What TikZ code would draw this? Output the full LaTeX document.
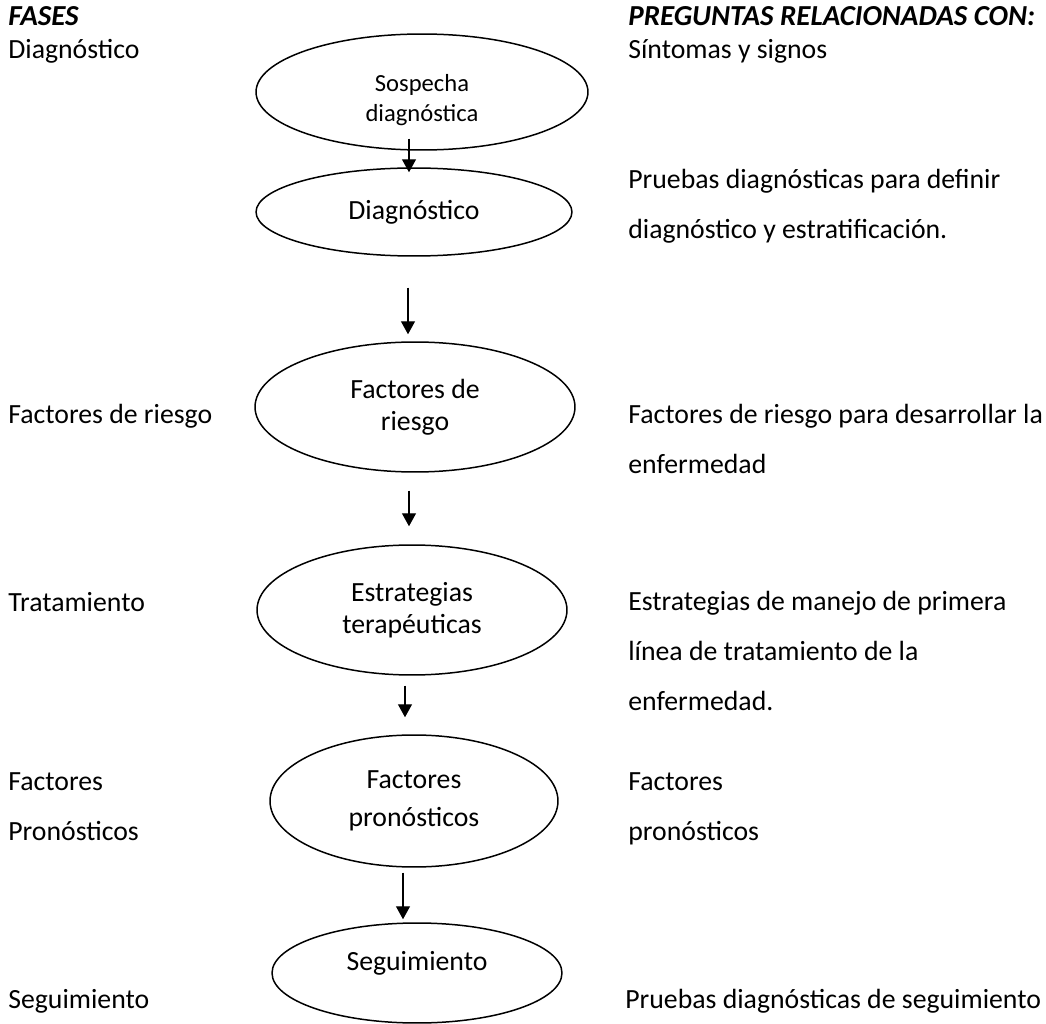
\documentclass[tikz,border=0pt]{standalone}
\usepackage{fontspec}
\setmainfont{Carlito}
\usetikzlibrary{shapes.geometric,arrows.meta}
\begin{document}
\begin{tikzpicture}[x=0.02cm, y=-0.02cm,
  txt/.style={anchor=base west, inner sep=0pt, align=left, font=\fontsize{15.8}{28.45}\selectfont},
  etapa/.style={draw, ellipse, line width=0.85pt, inner sep=0pt, align=center, font=\fontsize{15.8}{18}\selectfont},
  arr/.style={-{Triangle[width=0.28cm, length=0.26cm]}, line width=0.75pt}]
\useasboundingbox (0,0) rectangle (1046,1024);

\node [txt, font=\fontsize{16.5}{28.45}\selectfont\bfseries\itshape] (fases) at (8,26) {FASES};
\node [txt, font=\fontsize{16.5}{28.45}\selectfont\bfseries\itshape] (preg) at (628,26) {PREGUNTAS RELACIONADAS CON:};

\node [etapa, minimum width=6.64cm, minimum height=2.32cm, text height=1.25cm, font=\fontsize{14}{17}\selectfont] (e1) at (422,92) {Sospecha\\diagn\'ostica};
\node [etapa, minimum width=6.32cm, minimum height=1.76cm] (e2) at (414,212) {Diagn\'ostico};
\node [etapa, minimum width=6.4cm, minimum height=2.6cm] (e3) at (415,407) {Factores de\\riesgo};
\node [etapa, minimum width=6.2cm, minimum height=2.6cm] (e4) at (412,610) {Estrategias\\terap\'euticas};
\node [etapa, minimum width=5.76cm, minimum height=2.64cm, font=\fontsize{15.8}{21.6}\selectfont] (e5) at (414,801) {Factores\\pron\'osticos};
\node [etapa, minimum width=5.8cm, minimum height=2cm, text depth=0.5cm] (e6) at (417,973) {Seguimiento};

\draw [arr] ([shift={(-13,-12)}]e1.south) -- ([shift={(-5,5)}]e2.north);
\draw [arr] ([shift={(-6,31)}]e2.south) -- ([shift={(-7,-7)}]e3.north);
\draw [arr] ([shift={(-6,18)}]e3.south) -- ([shift={(-3,-18)}]e4.north);
\draw [arr] ([shift={(-7,10)}]e4.south) -- ([shift={(-9,-17)}]e5.north);
\draw [arr] ([shift={(-11,5)}]e5.south) -- ([shift={(-14,-3)}]e6.north);

\node [txt] (f1) at (8,59) {Diagn\'ostico};
\node [txt] (f2) at (8,423) {Factores de riesgo};
\node [txt] (f3) at (8,611) {Tratamiento};
\node [txt] (f4) at (8,840) {Factores\\Pron\'osticos};
\node [txt] (f5) at (8,1008) {Seguimiento};

\node [txt] (p1) at (628,59) {S\'intomas y signos};
\node [txt] (p2) at (628,238) {Pruebas diagn\'osticas para definir\\diagn\'ostico y estratificaci\'on.};
\node [txt] (p3) at (628,473) {Factores de riesgo para desarrollar la\\enfermedad};
\node [txt] (p4) at (628,710) {Estrategias de manejo de primera\\l\'inea de tratamiento de la\\enfermedad.};
\node [txt] (p5) at (628,840) {Factores\\pron\'osticos};
\node [txt] (p6) at (625,1008) {Pruebas diagn\'osticas de seguimiento};
\end{tikzpicture}
\end{document}
